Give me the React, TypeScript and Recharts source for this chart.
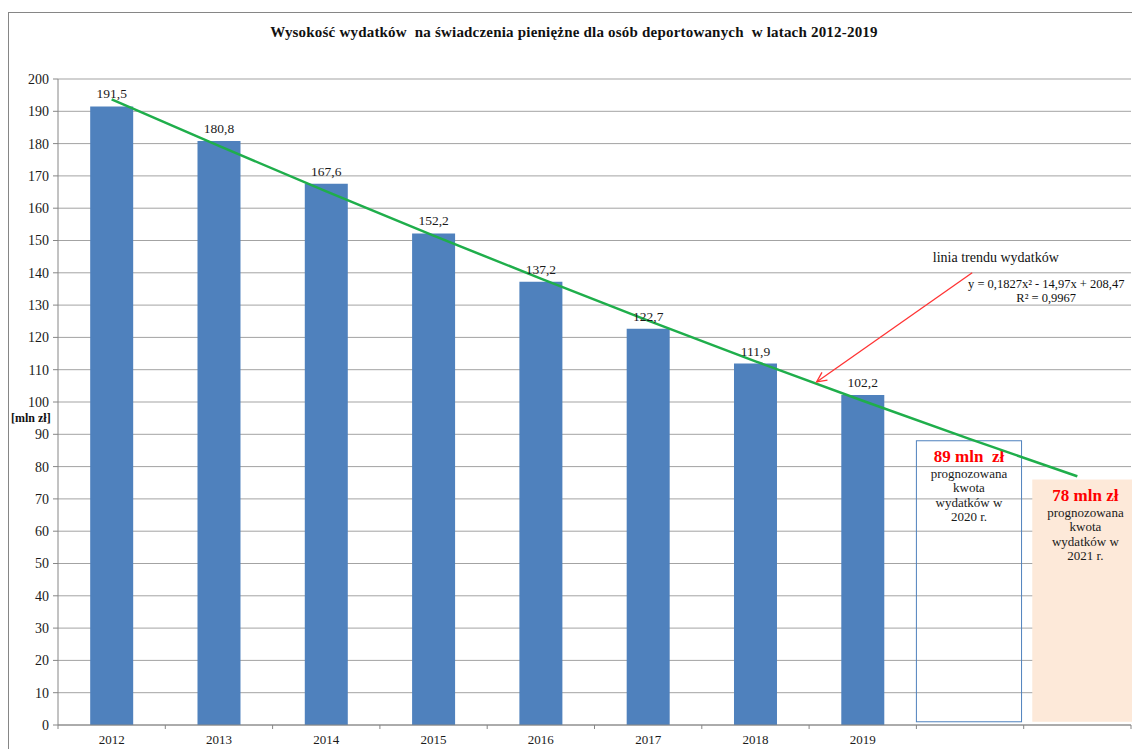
import {
  ComposedChart,
  Bar,
  Line,
  XAxis,
  YAxis,
  CartesianGrid,
  LabelList,
  ReferenceArea,
  ReferenceLine,
  ReferenceDot,
} from "recharts";

const SERIF = '"Liberation Serif", "Times New Roman", serif';

const years = ["2012", "2013", "2014", "2015", "2016", "2017", "2018", "2019", "2020", "2021"];
const yearLabels = ["2012", "2013", "2014", "2015", "2016", "2017", "2018", "2019", "", ""];
const spending = [191.5, 180.8, 167.6, 152.2, 137.2, 122.7, 111.9, 102.2, null, null];
// trend line (quadratic trend from the chart)
const trend = [193.7, 179.3, 165.2, 151.5, 138.2, 125.2, 112.6, 100.4, 88.5, 77.0];
const yTicks = [0, 10, 20, 30, 40, 50, 60, 70, 80, 90, 100, 110, 120, 130, 140, 150, 160, 170, 180, 190, 200];

const forecastAmounts = ["89 mln  zł", "78 mln zł"];
const forecastYears = ["2020 r.", "2021 r."];
const forecastTops = [88, 76];

// slot = position of each year on a 0..10 scale, used for the annotations
const data = years.map((year, i) => ({
  year,
  slot: i + 0.5,
  value: spending[i],
  trend: trend[i],
}));

function YearTick(props: any) {
  const { x, y, payload, index } = props;
  const half = payload?.offset ?? 53.6;
  const axisY = y - 10;
  const last = index === years.length - 1;
  return (
    <g>
      <line x1={x - half} x2={x - half} y1={axisY} y2={axisY + 4} stroke="#868686" />
      {last && <line x1={x + half} x2={x + half} y1={axisY} y2={axisY + 4} stroke="#868686" />}
      <text x={x} y={y} dy="0.71em" textAnchor="middle" fontSize={13} fontFamily={SERIF} fill="#1a1a1a">
        {yearLabels[index]}
      </text>
    </g>
  );
}

function ForecastBox(i: number, filled: boolean) {
  return (props: any) => {
    const { x, y, width, height } = props;
    const cx = x + width / 2;
    return (
      <g>
        <rect
          x={x}
          y={y}
          width={width}
          height={height}
          fill={filled ? "#fde9d9" : "none"}
          stroke={filled ? "none" : "#4f81bd"}
          strokeWidth={1}
        />
        <text x={cx} y={y + 21} textAnchor="middle" fontSize={17} fontWeight="bold" fontFamily={SERIF} fill="#ff0000" style={{ whiteSpace: "pre" }}>
          {forecastAmounts[i]}
        </text>
        <text textAnchor="middle" fontSize={13} fontFamily={SERIF} fill="#1a1a1a">
          <tspan x={cx} y={y + 37}>prognozowana</tspan>
          <tspan x={cx} y={y + 51.5}>kwota</tspan>
          <tspan x={cx} y={y + 66}>wydatków w</tspan>
          <tspan x={cx} y={y + 80.5}>{forecastYears[i]}</tspan>
        </text>
      </g>
    );
  };
}

function Arrow(props: any) {
  const { x1, y1, x2, y2 } = props;
  const ang = Math.atan2(y2 - y1, x2 - x1);
  const len = 11;
  const spread = 0.45;
  const ax = x2 - len * Math.cos(ang - spread);
  const ay = y2 - len * Math.sin(ang - spread);
  const bx = x2 - len * Math.cos(ang + spread);
  const by = y2 - len * Math.sin(ang + spread);
  return (
    <g stroke="#ff3333" strokeWidth={1.3} fill="none">
      <line x1={x1} y1={y1} x2={x2} y2={y2} />
      <polyline points={`${ax},${ay} ${x2},${y2} ${bx},${by}`} />
    </g>
  );
}

export default function App() {
  return (
    <div style={{ position: "fixed", inset: 0, overflow: "hidden", background: "#fff" }}>
      <div
        style={{
          position: "absolute",
          left: 8,
          top: 12,
          width: 1130,
          height: 760,
          border: "1px solid #868686",
          background: "#fff",
        }}
      >
        <div
          style={{
            position: "absolute",
            top: 10,
            left: 0,
            width: "100%",
            lineHeight: "18px",
            textAlign: "center",
            fontFamily: SERIF,
            fontWeight: "bold",
            fontSize: 15,
            letterSpacing: 0.2,
            whiteSpace: "pre",
            color: "#111",
          }}
        >
          Wysokość wydatków  na świadczenia pieniężne dla osób deportowanych  w latach 2012-2019
        </div>
        <ComposedChart
          width={1130}
          height={760}
          data={data}
          margin={{ top: 66, right: 8, left: 0, bottom: 18 }}
          barCategoryGap="30%"
        >
          <CartesianGrid vertical={false} stroke="#a3a3a3" />
          <XAxis
            dataKey="year"
            height={30}
            tickLine={false}
            tickSize={4}
            tickMargin={6}
            interval={0}
            axisLine={{ stroke: "#868686" }}
            tick={<YearTick />}
          />
          <XAxis xAxisId="n" dataKey="slot" type="number" domain={[0, 10]} hide allowDataOverflow />
          <YAxis
            width={49}
            domain={[0, 200]}
            ticks={yTicks}
            interval={0}
            tickSize={5}
            tickMargin={4}
            axisLine={{ stroke: "#868686" }}
            tickLine={{ stroke: "#868686" }}
            tick={{ fontSize: 14, fontFamily: SERIF, fill: "#1a1a1a" }}
          />
          <ReferenceArea
            xAxisId="n"
            x1={8}
            x2={8.98}
            y1={1}
            y2={forecastTops[0]}
            ifOverflow="visible"
            shape={ForecastBox(0, false)}
          />
          <ReferenceArea
            xAxisId="n"
            x1={9.08}
            x2={10.07}
            y1={1}
            y2={forecastTops[1]}
            ifOverflow="visible"
            shape={ForecastBox(1, true)}
          />
          <Bar dataKey="value" fill="#4f81bd" isAnimationActive={false}>
            <LabelList
              dataKey="value"
              position="top"
              offset={8}
              fontSize={13.5}
              fontFamily={SERIF}
              fill="#1a1a1a"
              formatter={(v: any) => (v == null ? "" : String(v).replace(".", ","))}
            />
          </Bar>
          <Line
            dataKey="trend"
            type="monotone"
            stroke="#1fae4b"
            strokeWidth={2.5}
            dot={false}
            activeDot={false}
            isAnimationActive={false}
          />
          <ReferenceLine
            xAxisId="n"
            segment={[
              { x: 8.52, y: 140 },
              { x: 7.07, y: 106.2 },
            ]}
            ifOverflow="visible"
            shape={Arrow}
          />
          <ReferenceDot
            xAxisId="n"
            x={8.74}
            y={145}
            r={0}
            ifOverflow="visible"
            label={{ value: "linia  trendu wydatków", position: "center", fontSize: 14, fontFamily: SERIF, fill: "#111" }}
          />
          <ReferenceDot
            xAxisId="n"
            x={9.21}
            y={136.6}
            r={0}
            ifOverflow="visible"
            label={{ value: "y = 0,1827x² - 14,97x + 208,47", position: "center", fontSize: 12.5, fontFamily: SERIF, fill: "#111" }}
          />
          <ReferenceDot
            xAxisId="n"
            x={9.21}
            y={132.3}
            r={0}
            ifOverflow="visible"
            label={{ value: "R² = 0,9967", position: "center", fontSize: 12.5, fontFamily: SERIF, fill: "#111" }}
          />
        </ComposedChart>
      </div>
      <div
        style={{
          position: "absolute",
          left: 11,
          top: 410,
          fontFamily: SERIF,
          fontWeight: "bold",
          fontSize: 12,
          lineHeight: "16px",
          color: "#111",
          whiteSpace: "pre",
        }}
      >
        [mln zł]
      </div>
    </div>
  );
}
